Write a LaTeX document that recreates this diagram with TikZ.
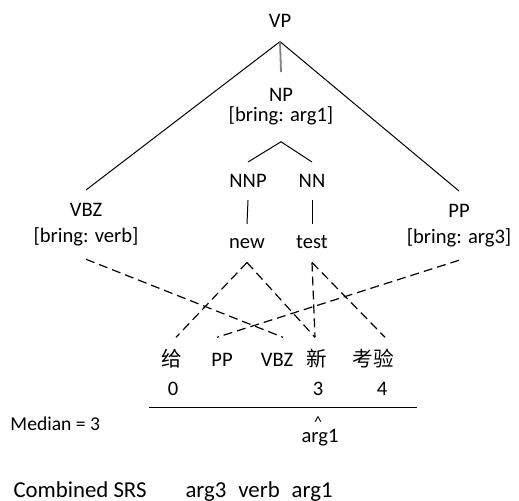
\documentclass[tikz,border=0pt]{standalone}
\usepackage{fontspec}
\setmainfont{Carlito}
\newfontfamily\zhfont{Noto Sans CJK SC}
\usepackage{tikz}
\usetikzlibrary{positioning}

\tikzset{
    tag/.style={font=\fontsize{10.3}{12.75}\selectfont, align=center, inner xsep=0pt, inner ysep=6.5pt},
    leaf/.style={font=\fontsize{10.3}{12}\selectfont, text height=4.8pt, text depth=0pt, inner ysep=7pt, anchor=base},
    slot/.style={font=\fontsize{10.3}{12}\selectfont, text height=6.6pt, text depth=0pt, inner ysep=7.5pt, anchor=base},
    plain/.style={font=\fontsize{10.3}{12}\selectfont, inner sep=0pt, anchor=base},
    align line/.style={dash pattern=on 4.5pt off 2.5pt, line width=0.6pt},
}

\begin{document}
\begin{tikzpicture}[x=0.5pt, y=-0.5pt, line width=0.5pt]
        \useasboundingbox (0,0) rectangle (519,500);

        % english tree
        \node[tag, inner ysep=6.75pt] (VP) at (280,21) {VP};
        \node[tag, anchor=north, inner ysep=8pt, font=\fontsize{10.3}{10}\selectfont] (NP) at (281,72) {NP\\{}[bring: arg1]};
        \node[tag, anchor=north] (VBZ) at (86,190) {VBZ\\{}[bring: verb]};
        \node[tag, anchor=north] (PP) at (459,191) {PP\\{}[bring: arg3]};
        \node[tag, anchor=north, inner ysep=6pt] (NNP) at (248,162) {NNP};
        \node[tag, anchor=north, inner ysep=6pt] (NN) at (312,162) {NN};
        \node[leaf] (new) at (247,248) {new};
        \node[leaf] (test) at (312,248) {test};

        \path [-] (VP.south) edge (VBZ.north);
        \path [-] (VP.south) edge (PP.north);
        \path [-, draw=gray, line width=0.9pt] (VP.south) edge (NP.north);
        \path [-] (NP.south) edge (NNP.north);
        \path [-] (NP.south) edge (NN.north);
        \path [-] (NNP.south) edge (new.north);
        \path [-] (NN.south) edge (test.north);

        % chinese side
        \node[slot, font=\fontsize{10.3}{12}\zhfont] (gei) at (172,366) {给};
        \node[slot] (pp-zh) at (222,366) {PP};
        \node[slot] (vbz-zh) at (277,366) {VBZ};
        \node[slot, font=\fontsize{10.3}{12}\zhfont] (xin) at (317,366) {新};
        \node[slot, font=\fontsize{10.3}{12}\zhfont] (kaoyan) at (373,366) {考验};

        \node[plain] (pos0) at (173,395) {0};
        \node[plain] (pos3) at (318,395) {3};
        \node[plain] (pos4) at (382,395) {4};

        % alignments
        \path [align line] (VBZ.south) edge ([xshift=3pt]vbz-zh.north);
        \path [align line] (PP.south) edge ([xshift=-2.5pt]pp-zh.north);
        \path [align line] (new.south) edge ([xshift=2pt]gei.north);
        \path [align line] (new.south) edge ([xshift=-1pt]xin.north);
        \path [align line] (test.south) edge ([xshift=-1pt]xin.north);
        \path [align line] (test.south) edge ([xshift=6pt]kaoyan.north);

        % median
        \coordinate (rule-l) at (149,407);
        \coordinate (rule-r) at (417,407);
        \path [-] (rule-l) edge (rule-r);
        \node[plain, font=\fontsize{8}{10}\selectfont] (hat) at (318,427) {\textasciicircum};
        \node[plain] (arg) at (320,442) {arg1};
        \node[plain, anchor=base west, font=\fontsize{9.8}{12}\selectfont] (median) at (10,430) {Median = 3};

        \node[plain, anchor=base west, font=\fontsize{11.4}{13}\selectfont] (combined) at (13,497) {Combined SRS};
        \node[plain, anchor=base west, font=\fontsize{11.4}{13}\selectfont] (srs) at (185,497) {arg3\hspace{6pt}verb\hspace{6pt}arg1};
\end{tikzpicture}
\end{document}
